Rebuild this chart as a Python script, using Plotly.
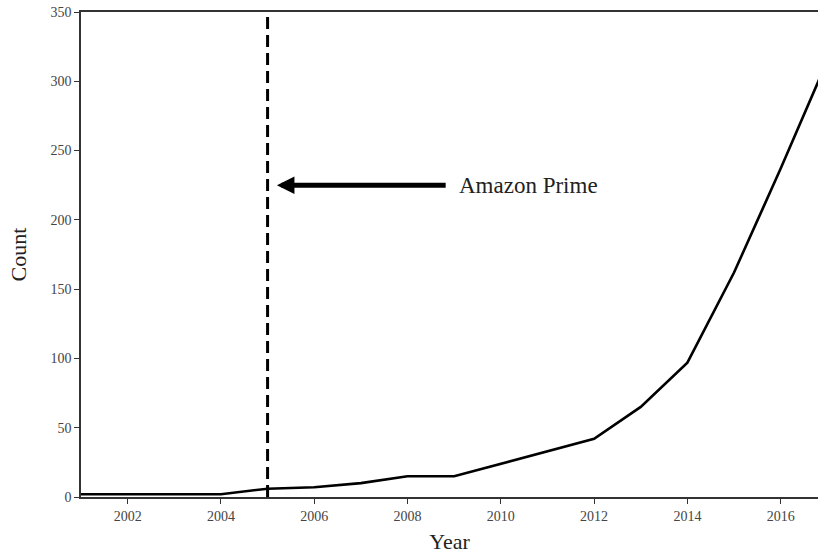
import plotly.graph_objects as go

years = [2001, 2002, 2003, 2004, 2005, 2006, 2007, 2008, 2009, 2010, 2011, 2012, 2013, 2014, 2015, 2016, 2017]
counts = [2, 2, 2, 2, 6, 7, 10, 15, 15, 24, 33, 42, 65, 97, 162, 237, 315]

x_ticks = [2002, 2004, 2006, 2008, 2010, 2012, 2014, 2016]
y_ticks = [0, 50, 100, 150, 200, 250, 300, 350]

prime_year = 2005
arrow_head = (2005.2, 225)
arrow_tail = (2008.85, 225)
label_text = "Amazon Prime"

FONT = "Liberation Serif"

fig = go.Figure()
fig.add_trace(go.Scatter(x=years, y=counts, mode="lines",
                         line=dict(color="black", width=2.6), showlegend=False, hoverinfo="skip"))

fig.add_shape(type="line", xref="x", yref="paper", x0=prime_year, x1=prime_year, y0=0, y1=1,
              line=dict(color="black", width=3, dash="12px,6px"))

fig.add_annotation(x=arrow_head[0], y=arrow_head[1], ax=arrow_tail[0], ay=arrow_tail[1],
                   xref="x", yref="y", axref="x", ayref="y", text="", showarrow=True,
                   arrowhead=2, arrowsize=0.7, arrowwidth=5, arrowcolor="black", standoff=0)
fig.add_annotation(x=arrow_tail[0] + 0.2, y=arrow_tail[1], xref="x", yref="y", text=label_text,
                   showarrow=False, xanchor="left", yanchor="middle",
                   font=dict(family=FONT, size=23, color="#222"))

fig.update_layout(
    width=818, height=554,
    margin=dict(l=81, r=0, t=12, b=57),
    paper_bgcolor="white", plot_bgcolor="white",
    font=dict(family=FONT, color="#444"),
)
fig.update_xaxes(range=[2001, 2016.8], tickvals=x_ticks, ticktext=[str(v) for v in x_ticks],
                 showgrid=False, zeroline=False, showline=True, linecolor="#333", linewidth=1.5,
                 mirror=True, ticks="outside", ticklen=5, tickcolor="#333",
                 tickfont=dict(family=FONT, size=14, color="#444"),
                 title=dict(text="Year", font=dict(family=FONT, size=22, color="#222"), standoff=12))
fig.update_yaxes(range=[0, 350], tickvals=y_ticks, ticktext=[str(v) for v in y_ticks],
                 showgrid=False, zeroline=False, showline=True, linecolor="#333", linewidth=1.5,
                 ticks="outside", ticklen=5, tickcolor="#333",
                 tickfont=dict(family=FONT, size=14, color="#444"),
                 title=dict(text="Count", font=dict(family=FONT, size=22, color="#222"), standoff=18))

fig.write_html("out.html", config={"displayModeBar": False},
               post_script="document.body.style.margin='0';document.body.style.overflow='hidden';")
